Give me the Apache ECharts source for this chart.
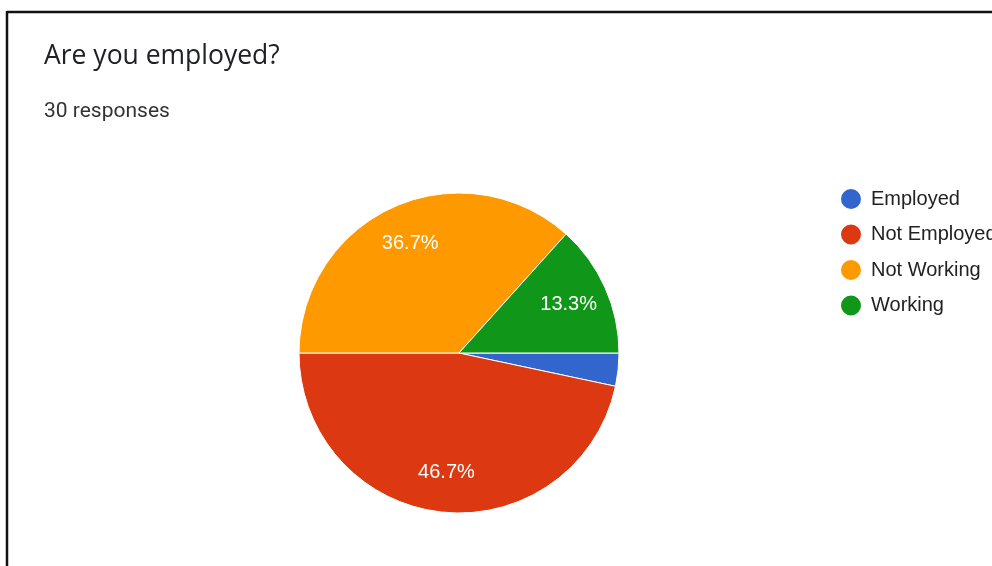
<!DOCTYPE html>
<html>
<head>
<meta charset="utf-8">
<script src="https://cdn.jsdelivr.net/npm/echarts@6/dist/echarts.min.js"></script>
<style>
html,body{margin:0;padding:0;background:#fff;}
#chart{width:992px;height:566px;}
</style>
</head>
<body>
<div id="chart"></div>
<script>
const titleText = "Are you employed?";
const subtitleText = "30 responses";
const categories = ["Employed", "Not Employed", "Not Working", "Working"];
const counts = [1, 14, 11, 4];
const colors = ["#3366cc", "#dc3912", "#ff9900", "#109618"];

const total = counts.reduce((a, b) => a + b, 0);
const pieData = categories.map((c, i) => ({ name: c, value: counts[i], itemStyle: { color: colors[i] } }));
const labelData = categories.map((c, i) => ({
  name: c, value: counts[i],
  label: { show: counts[i] / total >= 0.05 }
}));

const chart = echarts.init(document.getElementById('chart'));
chart.setOption({
  animation: false,
  backgroundColor: '#ffffff',
  title: [
    { text: titleText, left: 39, top: 38, textStyle: { fontFamily: 'Open Sans', fontSize: 26.5, fontWeight: 'normal', color: '#202124' } },
    { text: subtitleText, left: 39, top: 96, textStyle: { fontFamily: 'Roboto', fontSize: 21, fontWeight: 'normal', color: '#333333' } }
  ],
  legend: {
    orient: 'vertical',
    left: 834, top: 182,
    icon: 'circle',
    itemWidth: 30, itemHeight: 22,
    itemGap: 11.5,
    data: categories,
    textStyle: { fontFamily: 'Liberation Sans', fontSize: 20, color: '#222222' }
  },
  graphic: [
    { type: 'line', shape: { x1: 7, y1: 12, x2: 992, y2: 12 }, style: { stroke: '#111', lineWidth: 2.5 } },
    { type: 'line', shape: { x1: 7, y1: 11, x2: 7, y2: 566 }, style: { stroke: '#111', lineWidth: 2.5 } }
  ],
  series: [
    {
      type: 'pie',
      center: [459, 353],
      radius: [0, 160],
      startAngle: 0,
      clockwise: true,
      label: { show: false },
      labelLine: { show: false },
      itemStyle: { borderColor: '#ffffff', borderWidth: 1 },
      emphasis: { disabled: true },
      data: pieData
    },
    {
      type: 'pie',
      center: [459, 353],
      radius: [74, 160],
      startAngle: 0,
      clockwise: true,
      silent: true,
      legendHoverLink: false,
      itemStyle: { color: 'rgba(0,0,0,0)' },
      label: {
        show: true, position: 'inside',
        formatter: p => (p.value / total * 100).toFixed(1) + '%',
        fontFamily: 'Liberation Sans', fontSize: 20, color: '#ffffff'
      },
      labelLine: { show: false },
      emphasis: { disabled: true },
      tooltip: { show: false },
      data: labelData
    }
  ]
});
</script>
</body>
</html>
